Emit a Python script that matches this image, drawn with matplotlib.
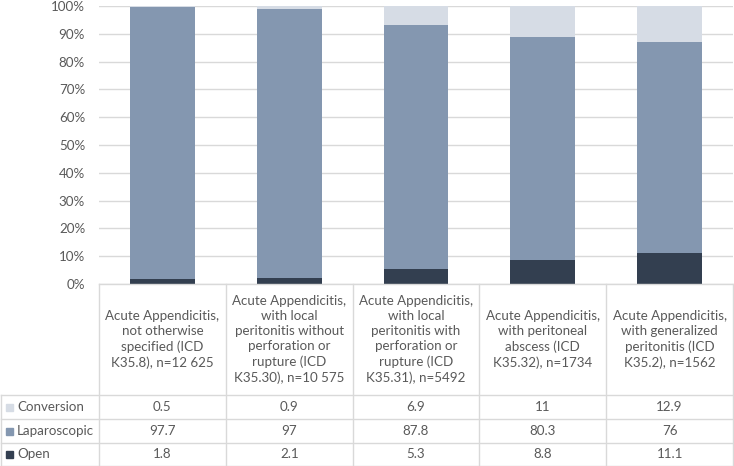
import numpy as np
import matplotlib.pyplot as plt
from matplotlib.ticker import PercentFormatter
from matplotlib.lines import Line2D

# ------------------ DATA ------------------ #
categories = [
    "Acute Appendicitis,\nnot otherwise\nspecified (ICD\nK35.8), n=12 625",
    "Acute Appendicitis,\nwith local\nperitonitis without\nperforation or\nrupture (ICD\nK35.30), n=10 575",
    "Acute Appendicitis,\nwith local\nperitonitis with\nperforation or\nrupture (ICD\nK35.31), n=5492",
    "Acute Appendicitis,\nwith peritoneal\nabscess (ICD\nK35.32), n=1734",
    "Acute Appendicitis,\nwith generalized\nperitonitis (ICD\nK35.2), n=1562",
]
open_pct = [1.8, 2.1, 5.3, 8.8, 11.1]
lap_pct = [97.7, 97, 87.8, 80.3, 76]
conv_pct = [0.5, 0.9, 6.9, 11, 12.9]
series_names = ["Conversion", "Laparoscopic", "Open"]
# ------------------------------------------ #

C_CONV = "#D6DCE5"
C_LAP = "#8497B0"
C_OPEN = "#333F50"
GRID = "#D9D9D9"
TXT = "#595959"
FONT = "Lato"
FS = 9.6

W, H = 734, 466
fig = plt.figure(figsize=(W / 100, H / 100), dpi=100)

# plot area in pixels
L, R, T, B = 99, 733, 6, 284
ax = fig.add_axes([L / W, 1 - B / H, (R - L) / W, (B - T) / H])

x = np.arange(len(categories))
o = np.array(open_pct) / 100
l = np.array(lap_pct) / 100
c = np.array(conv_pct) / 100
s = o + l + c
o, l, c = o / s, l / s, c / s

bw = 0.51
ax.bar(x, o, bw, color=C_OPEN, zorder=3)
ax.bar(x, l, bw, bottom=o, color=C_LAP, zorder=3)
ax.bar(x, c, bw, bottom=o + l, color=C_CONV, zorder=3)

ax.set_xlim(-0.5, len(categories) - 0.5)
ax.set_ylim(0, 1)
ax.set_yticks(np.arange(0, 1.01, 0.1))
ax.yaxis.set_major_formatter(PercentFormatter(1.0, decimals=0))
ax.yaxis.grid(True, color=GRID, lw=1, zorder=0)
ax.set_xticks([])
for sp in ax.spines.values():
    sp.set_visible(False)
ax.tick_params(axis="y", length=0, pad=10, labelsize=FS, labelcolor=TXT)
for lb in ax.get_yticklabels():
    lb.set_fontfamily(FONT)


# ---- data table below the chart (pixel coords) ---- #
def fx(px):
    return px / W


def fy(py):
    return 1 - py / H


def hline(y, x0, x1):
    fig.add_artist(Line2D([fx(x0), fx(x1)], [fy(y), fy(y)], color=GRID, lw=1))


def vline(xp, y0, y1):
    fig.add_artist(Line2D([fx(xp), fx(xp)], [fy(y0), fy(y1)], color=GRID, lw=1))


head_bot = 395
rows_y = [395, 419, 443, 465.5]
colw = (R - L) / len(categories)
col_x = [L + i * colw for i in range(len(categories) + 1)]

hline(B, L, R)
for yy in rows_y:
    hline(yy, 1, R)
for xx in col_x:
    vline(xx, B, rows_y[-1])
vline(1, head_bot, rows_y[-1])

for i, cat in enumerate(categories):
    fig.text(fx(col_x[i] + colw / 2), fy((B + head_bot) / 2), cat,
             ha="center", va="center", fontsize=FS, color=TXT,
             family=FONT, linespacing=1.33)

row_vals = [conv_pct, lap_pct, open_pct]
row_cols = [C_CONV, C_LAP, C_OPEN]
for r, (name, vals, col) in enumerate(zip(series_names, row_vals, row_cols)):
    yc = (rows_y[r] + rows_y[r + 1]) / 2
    fig.patches.append(plt.Rectangle((fx(6), fy(yc + 3.5)), 7 / W, 7 / H,
                                     transform=fig.transFigure, color=col))
    fig.text(fx(17), fy(yc), name, ha="left", va="center", fontsize=FS,
             color=TXT, family=FONT)
    for i, v in enumerate(vals):
        fig.text(fx(col_x[i] + colw / 2), fy(yc), f"{v:g}", ha="center",
                 va="center", fontsize=FS, color=TXT, family=FONT)

fig.savefig("out.png", dpi=100)
